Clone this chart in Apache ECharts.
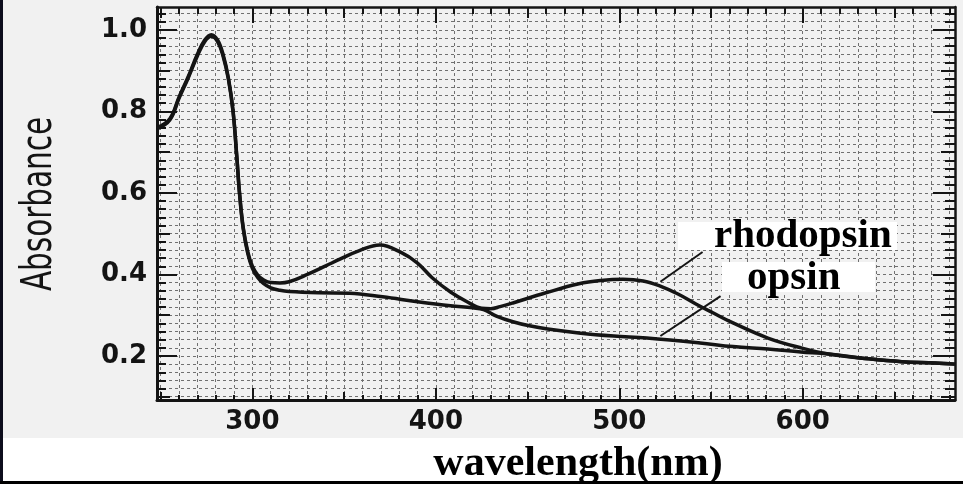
<!DOCTYPE html>
<html>
<head>
<meta charset="utf-8">
<script src="https://cdn.jsdelivr.net/npm/echarts@6/dist/echarts.min.js"></script>
<style>
  html, body { margin: 0; padding: 0; background: #ffffff; }
  #chart { width: 963px; height: 484px; }
</style>
</head>
<body>
<div id="chart"></div>
<script>
// ---- data ----
const rhodopsinX = [248, 255, 260, 265, 270, 274, 277.6, 281, 284, 287, 289.5, 291.5, 293, 295, 297.5, 300, 303, 306, 310, 315, 320, 330, 340, 348, 358, 369.5, 381, 390, 398, 408, 417, 425, 430, 435, 442, 460, 478, 490, 502, 513, 522, 532, 542, 551, 562, 581, 599, 614, 636, 654, 672, 683];
const rhodopsinY = [0.760, 0.782, 0.835, 0.885, 0.940, 0.975, 0.988, 0.975, 0.940, 0.880, 0.800, 0.690, 0.600, 0.515, 0.455, 0.420, 0.398, 0.387, 0.380, 0.379, 0.382, 0.400, 0.421, 0.438, 0.458, 0.472, 0.454, 0.428, 0.392, 0.357, 0.333, 0.317, 0.316, 0.321, 0.330, 0.355, 0.377, 0.385, 0.388, 0.384, 0.372, 0.352, 0.327, 0.306, 0.281, 0.244, 0.220, 0.205, 0.193, 0.186, 0.183, 0.180];
const opsinX = [248, 255, 260, 265, 270, 274, 277.6, 281, 284, 287, 289.5, 291.5, 293, 295, 297.5, 300, 303, 306, 310, 315, 320, 336, 353, 371, 390, 408, 420, 426, 433, 442, 451, 461, 479, 497, 515, 544, 562, 581, 599, 614, 636, 654, 672, 683];
const opsinY = [0.757, 0.779, 0.832, 0.882, 0.936, 0.971, 0.984, 0.971, 0.936, 0.877, 0.797, 0.687, 0.597, 0.512, 0.451, 0.415, 0.392, 0.378, 0.367, 0.361, 0.358, 0.355, 0.354, 0.345, 0.333, 0.323, 0.318, 0.314, 0.298, 0.284, 0.274, 0.266, 0.256, 0.249, 0.244, 0.232, 0.223, 0.217, 0.210, 0.205, 0.193, 0.186, 0.183, 0.180];
const rhodopsinLeader = [[522.4, 0.382], [545.4, 0.455]];
const opsinLeader = [[522.4, 0.249], [555.2, 0.347]];

const xTickLabels = [300, 400, 500, 600];
const xMidTicks = [250, 350, 450, 550, 650];
const xMinorTicks = [250,260,270,280,290,300,310,320,330,340,350,360,370,380,390,400,410,420,430,440,450,460,470,480,490,500,510,520,530,540,550,560,570,580,590,600,610,620,630,640,650,660,670,680];
const yTickLabels = [0.2, 0.4, 0.6, 0.8, 1.0];
const yMidTicks = [0.1, 0.3, 0.5, 0.7, 0.9];
const yMinorTicks = [0.10,0.12,0.14,0.16,0.18,0.20,0.22,0.24,0.26,0.28,0.30,0.32,0.34,0.36,0.38,0.40,0.42,0.44,0.46,0.48,0.50,0.52,0.54,0.56,0.58,0.60,0.62,0.64,0.66,0.68,0.70,0.72,0.74,0.76,0.78,0.80,0.82,0.84,0.86,0.88,0.90,0.92,0.94,0.96,0.98,1.00,1.02,1.04];

const xMin = 248, xMax = 683, yMin = 0.092, yMax = 1.056;

const zip = (xs, ys) => xs.map((x, i) => [x, ys[i]]);

const INK = '#141414';
const tickFont = { fontFamily: 'DejaVu Sans', fontSize: 26, fontWeight: 'bold', color: INK };

function xAx(position, ticks, len, opts) {
  opts = opts || {};
  return {
    type: 'value', position: position, min: xMin, max: xMax,
    axisLine: { show: !!opts.line, onZero: false, lineStyle: { color: INK, width: opts.lineWidth || 3 } },
    axisTick: { show: true, inside: true, length: len, customValues: ticks, lineStyle: { color: INK, width: 2 } },
    axisLabel: opts.labels ? Object.assign({ show: true, margin: 9, customValues: ticks, formatter: v => String(Math.round(v)) }, tickFont) : { show: false },
    splitLine: opts.grid ? { show: true, lineStyle: { color: '#707070', width: 1, type: [3, 3] } } : { show: false }
  };
}
function yAx(position, ticks, len, opts) {
  opts = opts || {};
  return {
    type: 'value', position: position, min: yMin, max: yMax,
    axisLine: { show: !!opts.line, onZero: false, lineStyle: { color: INK, width: opts.lineWidth || 3 } },
    axisTick: { show: true, inside: true, length: len, customValues: ticks, lineStyle: { color: INK, width: 2 } },
    axisLabel: opts.labels ? Object.assign({ show: true, margin: 10, customValues: ticks, formatter: v => v.toFixed(1) }, tickFont) : { show: false },
    splitLine: opts.grid ? { show: true, lineStyle: { color: '#707070', width: 1, type: [3, 3] } } : { show: false }
  };
}

const chart = echarts.init(document.getElementById('chart'), null, { renderer: 'canvas' });
chart.setOption({
  backgroundColor: '#f1f1f1',
  animation: false,
  grid: { left: 157, top: 7, right: 8, bottom: 84, containLabel: false },
  xAxis: [
    xAx('bottom', xTickLabels, 12, { line: true, labels: true }),
    xAx('bottom', xMidTicks, 8),
    xAx('bottom', xMinorTicks, 5, { grid: true }),
    xAx('top', xTickLabels, 16, { line: true, lineWidth: 2.5 }),
    xAx('top', xMidTicks, 11),
    xAx('top', xMinorTicks, 7)
  ],
  yAxis: [
    yAx('left', yTickLabels, 20, { line: true, labels: true }),
    yAx('left', yMidTicks, 13),
    yAx('left', yMinorTicks, 9, { grid: true }),
    yAx('right', yTickLabels, 22, { line: true, lineWidth: 2.5 }),
    yAx('right', yMidTicks, 14),
    yAx('right', yMinorTicks, 10)
  ],
  series: [
    {
      name: 'rhodopsin', type: 'line', xAxisIndex: 0, yAxisIndex: 0,
      data: zip(rhodopsinX, rhodopsinY), showSymbol: false, smooth: 0.4, z: 5,
      lineStyle: { color: INK, width: 3.5 },
      markLine: {
        silent: true, symbol: ['none', 'none'], label: { show: false },
        lineStyle: { color: INK, width: 2, type: 'solid' },
        data: [[{ coord: rhodopsinLeader[0] }, { coord: rhodopsinLeader[1] }]]
      }
    },
    {
      name: 'opsin', type: 'line', xAxisIndex: 0, yAxisIndex: 0,
      data: zip(opsinX, opsinY), showSymbol: false, smooth: 0.4, z: 5,
      lineStyle: { color: INK, width: 3.5 },
      markLine: {
        silent: true, symbol: ['none', 'none'], label: { show: false },
        lineStyle: { color: INK, width: 2, type: 'solid' },
        data: [[{ coord: opsinLeader[0] }, { coord: opsinLeader[1] }]]
      }
    }
  ],
  graphic: [
    { type: 'rect', z: -10, shape: { x: 0, y: 438, width: 963, height: 46 }, style: { fill: '#ffffff' } },
    { type: 'rect', z: -9, shape: { x: 0, y: 0, width: 3, height: 484 }, style: { fill: '#0d0d1c' } },
    { type: 'rect', z: -9, shape: { x: 0, y: 481, width: 963, height: 3 }, style: { fill: '#000000' } },
    { type: 'text', z: 51, x: 40, y: 204, rotation: Math.PI / 2, scaleX: 0.78,
      style: { text: 'Absorbance', font: 'normal 42px "DejaVu Sans Condensed", "DejaVu Sans", sans-serif', fill: INK, align: 'center', verticalAlign: 'middle' } },
    { type: 'rect', z: 50, shape: { x: 678, y: 222, width: 219, height: 28 }, style: { fill: '#ffffff' } },
    { type: 'rect', z: 50, shape: { x: 722, y: 262, width: 153, height: 30 }, style: { fill: '#ffffff' } },
    { type: 'text', z: 51, x: 714, y: 236, style: { text: 'rhodopsin', font: 'bold 41px "Liberation Serif"', fill: '#000', align: 'left', verticalAlign: 'middle' } },
    { type: 'text', z: 51, x: 747, y: 278, style: { text: 'opsin', font: 'bold 41px "Liberation Serif"', fill: '#000', align: 'left', verticalAlign: 'middle' } },
    { type: 'text', z: 51, x: 578, y: 464, style: { text: 'wavelength(nm)', font: 'bold 42px "Liberation Serif"', fill: '#000', align: 'center', verticalAlign: 'middle' } }
  ]
});
</script>
</body>
</html>
